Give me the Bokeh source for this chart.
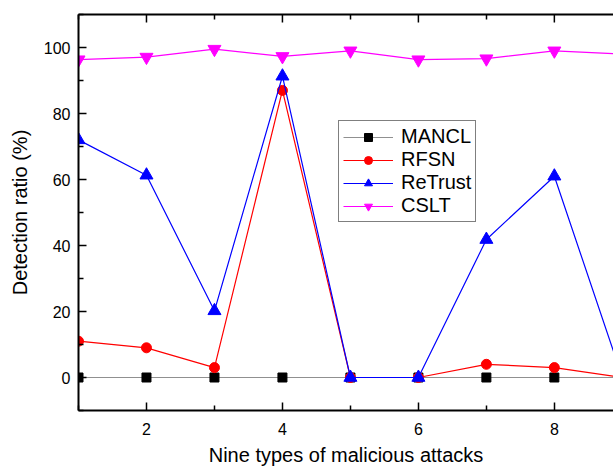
import math
from bokeh.plotting import figure
from bokeh.models import FixedTicker, LinearAxis, Range1d
from bokeh.embed import file_html
from bokeh.resources import INLINE

# ---- data ----
attacks = [1, 2, 3, 4, 5, 6, 7, 8, 9]
mancl = [0, 0, 0, 0, 0, 0, 0, 0, 0]
rfsn = [11, 9, 3, 87, 0, 0, 4, 3, 0]
retrust = [72, 61.3, 20.2, 91.3, 0, 0, 41.8, 61, 0]
cslt = [96.3, 97.1, 99.5, 97.3, 99.0, 96.3, 96.6, 99.0, 98.0]

x_ticks = [2, 4, 6, 8]
x_minor = [1, 3, 5, 7, 9]
y_ticks = [0, 20, 40, 60, 80, 100]
y_minor = [-10, 10, 30, 50, 70, 90, 110]
y_min, y_max = -10, 110

FONT = "Liberation Sans"

p = figure(width=613, height=468, x_range=Range1d(1, 8.87), y_range=Range1d(y_min, y_max),
           output_backend="svg", toolbar_location=None,
           min_border_left=78, min_border_right=0, min_border_top=14, min_border_bottom=57)
p.outline_line_color = None
p.xgrid.visible = False
p.ygrid.visible = False
p.background_fill_color = "white"
p.border_fill_color = "white"


def style_axis(ax):
    ax.axis_line_color = "black"
    ax.axis_line_width = 2
    ax.major_tick_in = 8
    ax.major_tick_out = 0
    ax.minor_tick_in = 5
    ax.minor_tick_out = 0
    ax.major_tick_line_width = 1.5
    ax.minor_tick_line_width = 1.5
    ax.major_label_text_font = FONT
    ax.major_label_text_font_size = "16px"
    ax.major_label_text_color = "black"
    ax.axis_label_text_font = FONT
    ax.axis_label_text_font_size = "20px"
    ax.axis_label_text_font_style = "normal"
    ax.axis_label_text_color = "black"


p.xaxis.ticker = FixedTicker(ticks=x_ticks, minor_ticks=x_minor)
p.yaxis.ticker = FixedTicker(ticks=y_ticks, minor_ticks=y_minor)
style_axis(p.xaxis[0])
style_axis(p.yaxis[0])
p.xaxis.axis_label = "Nine types of malicious attacks"
p.yaxis.axis_label = "Detection ratio (%)"
p.xaxis.major_label_standoff = 12
p.xaxis.axis_label_standoff = 6
p.yaxis.major_label_standoff = 8
p.yaxis.axis_label_standoff = 10

# top axis: line + minor ticks only (no labels)
top = LinearAxis(ticker=FixedTicker(ticks=[], minor_ticks=x_minor))
style_axis(top)
p.add_layout(top, "above")
# top major ticks as half-clipped dash markers on the upper frame edge
p.scatter(x_ticks, [y_max] * len(x_ticks), marker="dash", angle=math.pi / 2, size=16,
          line_color="black", line_width=1.5)

series = [
    ("MANCL", mancl, "black", "#909090", "square", 9),
    ("RFSN", rfsn, "red", "red", "circle", 10),
    ("ReTrust", retrust, "blue", "blue", "triangle", 13),
    ("CSLT", cslt, "magenta", "magenta", "inverted_triangle", 13),
]
for name, ys, col, lcol, marker, size in series:
    p.line(attacks, ys, line_color=lcol, line_width=1.2, legend_label=name)
    p.scatter(attacks, ys, marker=marker, size=size, fill_color=col, line_color=col,
              legend_label=name)

lg = p.legend[0]
lg.location = (260, 188)
lg.label_text_font = FONT
lg.label_text_font_size = "20px"
lg.label_text_color = "black"
lg.glyph_width = 50
lg.glyph_height = 20
lg.label_height = 20
lg.label_standoff = 8
lg.spacing = 0
lg.padding = 4
lg.margin = 0
lg.border_line_color = "black"
lg.border_line_width = 1
lg.background_fill_alpha = 1.0

open("out.html", "w").write(file_html(p, INLINE))
